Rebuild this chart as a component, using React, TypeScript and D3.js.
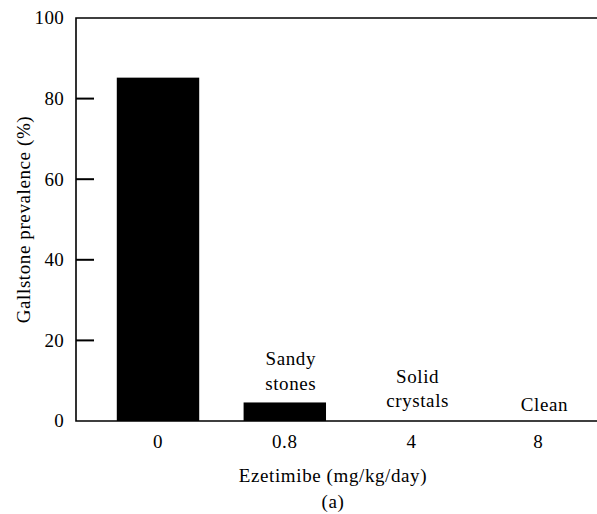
import React from 'react';
import * as d3 from 'd3';

// dose groups (mg/kg/day) and gallstone prevalence (%)
const doses = ['0', '0.8', '4', '8'];
const prevalence = [85.2, 4.6, 0, 0];
// annotation text above each group (empty = none)
const notes = [[], ['Sandy', 'stones'], ['Solid', 'crystals'], ['Clean']];
const yTicks = [0, 20, 40, 60, 80, 100];

const width = 597;
const height = 514;
const left = 76;
const top = 18;
const bottom = 421;
const textStyle = { fontFamily: 'Liberation Serif', fontSize: 19, letterSpacing: 0.6 };
// gap between the bar top and the last annotation line
const noteGap = [0, 12.5, 14, 10];

export default function App() {
    const xScale = d3.scaleBand<string>()
        .domain(doses)
        .range([94.6, 601.8])
        .paddingInner(0.35)
        .paddingOuter(0.175);

    const yScale = d3.scaleLinear()
        .domain([0, 100])
        .range([bottom, top]);

    const center = (d: string) => xScale(d)! + xScale.bandwidth() / 2;

    return (
        <svg width={width} height={height}
            style={{ position: 'absolute', left: 0, top: 0, background: '#fff' }}>
            {/* bars */}
            {prevalence.map((v, i) => (
                <rect key={i} x={xScale(doses[i])} y={yScale(v)}
                    width={xScale.bandwidth()} height={yScale(0) - yScale(v)} fill="#000" />
            ))}

            {/* frame: left, top and bottom lines, right side runs off the image */}
            <path d={`M${width + 5},${top}H${left}V${bottom}H${width + 5}`}
                fill="none" stroke="#000" strokeWidth={1.6} />

            {/* y ticks point inward */}
            {yTicks.filter(t => t > 0 && t < 100).map(t => (
                <line key={t} x1={left} x2={left + 18} y1={yScale(t)} y2={yScale(t)}
                    stroke="#000" strokeWidth={2} />
            ))}
            {yTicks.map(t => (
                <text key={t} x={left - 12} y={yScale(t)} dy="0.34em" textAnchor="end"
                    style={{ ...textStyle, letterSpacing: 0.3 }}>{t}</text>
            ))}

            {/* x tick labels */}
            {doses.map(d => (
                <text key={d} x={center(d)} y={448} textAnchor="middle" style={textStyle}>{d}</text>
            ))}

            {/* annotations above the low bars */}
            {notes.map((lines, i) => {
                const base = yScale(prevalence[i]) - noteGap[i];
                return lines.map((line, j) => (
                    <text key={i + '-' + j} x={center(doses[i]) + 6}
                        y={base - (lines.length - 1 - j) * 24.5}
                        textAnchor="middle" style={textStyle}>{line}</text>
                ));
            })}

            {/* axis titles */}
            <text x={333} y={482} textAnchor="middle" style={textStyle}>Ezetimibe (mg/kg/day)</text>
            <text x={333} y={508} textAnchor="middle" style={textStyle}>(a)</text>
            <text transform={`translate(30, ${(top + bottom) / 2}) rotate(-90)`}
                textAnchor="middle" style={textStyle}>Gallstone prevalence (%)</text>
        </svg>
    );
}
